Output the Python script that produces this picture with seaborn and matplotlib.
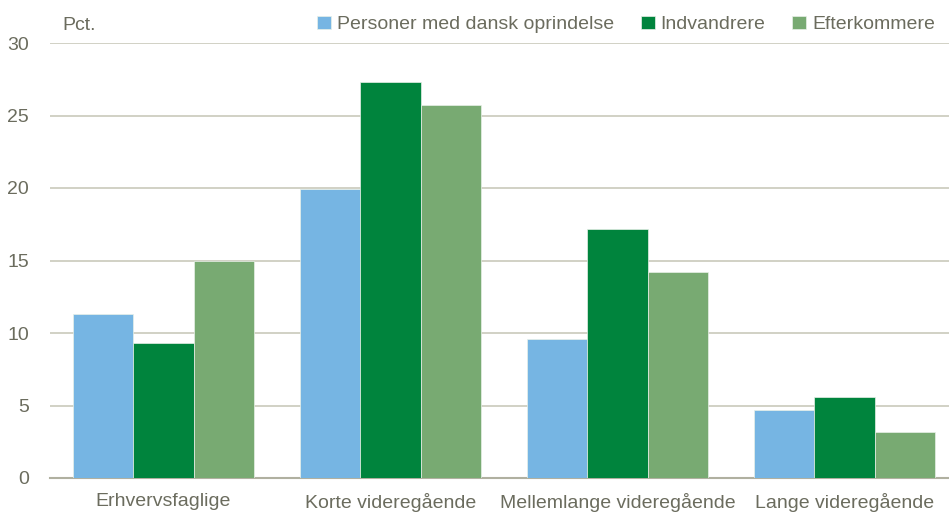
import matplotlib
matplotlib.use("Agg")
import matplotlib.pyplot as plt
import seaborn as sns
import pandas as pd

categories = ["Erhvervsfaglige", "Korte videregående", "Mellemlange videregående", "Lange videregående"]
groups = ["Personer med dansk oprindelse", "Indvandrere", "Efterkommere"]
dansk = [11.3, 19.9, 9.6, 4.7]
indvandrere = [9.3, 27.3, 17.2, 5.6]
efterkommere = [15.0, 25.7, 14.2, 3.2]
yticks = [0, 5, 10, 15, 20, 25, 30]

df = pd.DataFrame({
    "kategori": categories * 3,
    "gruppe": [groups[0]] * 4 + [groups[1]] * 4 + [groups[2]] * 4,
    "pct": dansk + indvandrere + efterkommere,
})

sns.set_style("white")
plt.rcParams["font.family"] = ["Liberation Sans", "DejaVu Sans"]
txt = "#6b6c5e"
grid = "#c9c9bb"

fig = plt.figure(figsize=(9.49, 5.13), dpi=100)
ax = fig.add_axes([50 / 949, 1 - 478 / 513, 1 - 50 / 949, (478 - 43) / 513])

sns.barplot(data=df, x="kategori", y="pct", hue="gruppe", order=categories,
            hue_order=groups, palette=["#76b5e3", "#00843d", "#78aa72"],
            saturation=1, width=0.8, edgecolor="#e8f0e8", linewidth=0.5,
            ax=ax, zorder=3)

ax.set_ylim(0, 30)
ax.set_xlim(-0.5, 3.46)
ax.set_yticks(yticks)
ax.yaxis.grid(True, color=grid, linewidth=1.2, zorder=0)
ax.set_axisbelow(True)
for s in ["top", "right", "left"]:
    ax.spines[s].set_visible(False)
ax.spines["bottom"].set_color("#b0b0a0")
ax.spines["bottom"].set_linewidth(1.5)
ax.tick_params(axis="both", length=0, labelsize=14, colors=txt)
ax.tick_params(axis="x", pad=11)
ax.tick_params(axis="y", pad=15)
ax.set_xlabel("")
ax.set_ylabel("")

fig.text(62 / 949, 1 - 25 / 513, "Pct.", fontsize=14, color=txt, va="center", ha="left")

leg = ax.legend(loc="lower right", bbox_to_anchor=(0.995, 1.0), ncol=3, frameon=False,
                fontsize=14, handlelength=0.7, handleheight=0.7, handletextpad=0.3,
                columnspacing=1.4, borderaxespad=0.1, labelcolor=txt)

fig.savefig("out.png", dpi=100)
